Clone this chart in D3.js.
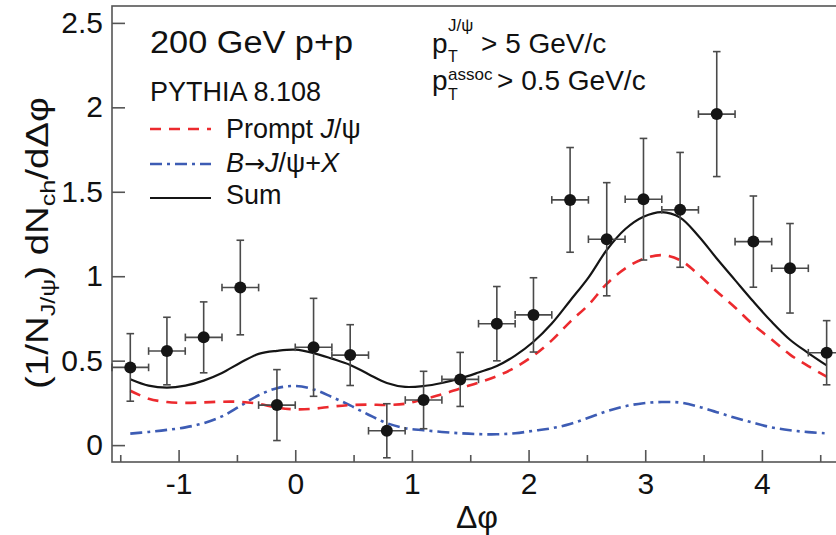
<!DOCTYPE html>
<html>
<head>
<meta charset="utf-8">
<script src="https://cdn.jsdelivr.net/npm/d3@7"></script>
<style>
  body { margin: 0; background: #fff; }
  text { font-family: "Liberation Sans", Arial, Helvetica, sans-serif; fill: #111; }
</style>
</head>
<body>
<script>
// chart size (same as the window)
var width = 836;
var height = 535;

// measured points: bin centres in dphi, per-trigger yield and its error
var dphi = [-1.414, -1.100, -0.785, -0.471, -0.157, 0.157, 0.471, 0.785, 1.100, 1.414,
            1.728, 2.042, 2.356, 2.670, 2.985, 3.299, 3.613, 3.927, 4.241, 4.555];
var yieldVals = [0.46, 0.557, 0.638, 0.933, 0.237, 0.579, 0.533, 0.085, 0.267, 0.389,
                 0.719, 0.771, 1.452, 1.219, 1.456, 1.393, 1.960, 1.205, 1.047, 0.547];
var yieldErr = [0.20, 0.20, 0.21, 0.28, 0.21, 0.29, 0.18, 0.16, 0.17, 0.16,
                0.22, 0.22, 0.31, 0.335, 0.36, 0.34, 0.37, 0.27, 0.265, 0.19];
var binHalf = 0.157;

// PYTHIA curves
var modelPhi = [-1.414, -1.257, -1.100, -0.942, -0.785, -0.628, -0.471, -0.314, -0.157, 0.000,
                0.157, 0.314, 0.471, 0.628, 0.785, 0.942, 1.100, 1.257, 1.414, 1.571,
                1.728, 1.885, 2.042, 2.199, 2.356, 2.513, 2.670, 2.827, 2.985, 3.142,
                3.299, 3.456, 3.613, 3.770, 3.927, 4.084, 4.241, 4.398, 4.555];
var prompt = [0.322, 0.275, 0.255, 0.250, 0.253, 0.257, 0.256, 0.245, 0.222, 0.212,
              0.215, 0.228, 0.237, 0.240, 0.238, 0.245, 0.272, 0.300, 0.336, 0.370,
              0.408, 0.460, 0.530, 0.620, 0.730, 0.830, 0.955, 1.045, 1.103, 1.125,
              1.095, 1.010, 0.910, 0.815, 0.712, 0.625, 0.536, 0.468, 0.405];
var bDecay = [0.068, 0.078, 0.090, 0.105, 0.130, 0.170, 0.232, 0.295, 0.337, 0.350,
              0.330, 0.285, 0.235, 0.180, 0.130, 0.100, 0.088, 0.078, 0.070, 0.065,
              0.064, 0.070, 0.085, 0.100, 0.125, 0.162, 0.200, 0.230, 0.248, 0.255,
              0.252, 0.228, 0.195, 0.162, 0.132, 0.105, 0.088, 0.077, 0.070];
var sum = [0.390, 0.352, 0.340, 0.352, 0.382, 0.427, 0.488, 0.540, 0.558, 0.565,
           0.545, 0.512, 0.475, 0.420, 0.368, 0.345, 0.350, 0.368, 0.395, 0.430,
           0.468, 0.530, 0.612, 0.720, 0.855, 0.992, 1.155, 1.278, 1.352, 1.380,
           1.347, 1.238, 1.105, 0.977, 0.850, 0.730, 0.624, 0.545, 0.472];

var xMajor = [-1, 0, 1, 2, 3, 4];
var xMinor = [-1.5, -0.5, 0.5, 1.5, 2.5, 3.5, 4.5];
var yMajor = [0, 0.5, 1, 1.5, 2, 2.5];

var svg = d3.select('body').append('svg').attr('width', width).attr('height', height);

var x = d3.scaleLinear().domain([-Math.PI / 2, 3 * Math.PI / 2]).range([112, 845]);
var y = d3.scaleLinear().domain([-0.1, 2.6]).range([462, 6]);

// frame (right side falls outside the picture)
svg.append('rect')
    .attr('x', x.range()[0]).attr('y', y.range()[1])
    .attr('width', x.range()[1] - x.range()[0])
    .attr('height', y.range()[0] - y.range()[1])
    .attr('fill', 'none').attr('stroke', '#555').attr('stroke-width', 1.6);

// axes
var xAxis = svg.append('g').attr('transform', 'translate(0,' + y.range()[0] + ')')
    .call(d3.axisBottom(x).tickValues(xMajor).tickSize(-12).tickPadding(11)
          .tickFormat(function(d){ return String(d); }));
var xAxisMinor = svg.append('g').attr('transform', 'translate(0,' + y.range()[0] + ')')
    .call(d3.axisBottom(x).tickValues(xMinor).tickSize(-7).tickFormat(''));
var yAxis = svg.append('g').attr('transform', 'translate(' + x.range()[0] + ',0)')
    .call(d3.axisLeft(y).tickValues(yMajor).tickSize(-13).tickPadding(9)
          .tickFormat(function(d){ return String(d); }));

[xAxis, xAxisMinor, yAxis].forEach(function(g){
  g.select('.domain').remove();
  g.selectAll('.tick line').attr('stroke', '#555').attr('stroke-width', 1.6);
  g.selectAll('.tick text').attr('font-size', 30).attr('fill', '#111')
    .attr('font-family', '"Liberation Sans", Arial, sans-serif');
});

// model curves
var line = d3.line().curve(d3.curveCatmullRom.alpha(0.5))
    .x(function(d){ return x(d[0]); })
    .y(function(d){ return y(d[1]); });

function curveData(vals){
  return modelPhi.map(function(p, i){ return [p, vals[i]]; });
}

svg.append('path').attr('d', line(curveData(bDecay)))
    .attr('fill', 'none').attr('stroke', '#3d5cb4').attr('stroke-width', 2.6)
    .attr('stroke-dasharray', '12,5,3,5');
svg.append('path').attr('d', line(curveData(prompt)))
    .attr('fill', 'none').attr('stroke', '#ec2a2e').attr('stroke-width', 2.6)
    .attr('stroke-dasharray', '11,8');
svg.append('path').attr('d', line(curveData(sum)))
    .attr('fill', 'none').attr('stroke', '#151515').attr('stroke-width', 2.2);

// data points with error bars
var pts = dphi.map(function(p, i){ return {x: p, y: yieldVals[i], e: yieldErr[i]}; });
var cap = 3.8;
var eb = svg.append('g').attr('stroke', '#4a4a4a').attr('stroke-width', 1.6);
pts.forEach(function(d){
  var cx = x(d.x), cy = y(d.y);
  var top = y(d.y + d.e), bot = y(d.y - d.e);
  var l = x(d.x - binHalf), r = x(d.x + binHalf);
  eb.append('line').attr('x1', cx).attr('x2', cx).attr('y1', top).attr('y2', bot);
  eb.append('line').attr('x1', cx - cap).attr('x2', cx + cap).attr('y1', top).attr('y2', top);
  eb.append('line').attr('x1', cx - cap).attr('x2', cx + cap).attr('y1', bot).attr('y2', bot);
  eb.append('line').attr('x1', l).attr('x2', r).attr('y1', cy).attr('y2', cy);
  eb.append('line').attr('x1', l).attr('x2', l).attr('y1', cy - cap).attr('y2', cy + cap);
  eb.append('line').attr('x1', r).attr('x2', r).attr('y1', cy - cap).attr('y2', cy + cap);
});
svg.append('g').selectAll('circle').data(pts).enter().append('circle')
    .attr('cx', function(d){ return x(d.x); })
    .attr('cy', function(d){ return y(d.y); })
    .attr('r', 6).attr('fill', '#151515');

// axis titles
svg.append('text').attr('x', 477).attr('y', 528).attr('text-anchor', 'middle')
    .attr('font-size', 32).text('\u0394\u03c6');

var yt = svg.append('text')
    .attr('transform', 'translate(48,243) rotate(-90) scale(1.2,1)')
    .attr('text-anchor', 'middle').attr('font-size', 32);
yt.append('tspan').text('(1/N');
yt.append('tspan').attr('font-size', 21).attr('dy', 7).text('J/\u03c8');
yt.append('tspan').attr('dy', -7).text(') dN');
yt.append('tspan').attr('font-size', 21).attr('dy', 7).text('ch');
yt.append('tspan').attr('dy', -7).text('/d\u0394\u03c6');

// legend
svg.append('text').attr('x', 150).attr('y', 53).attr('font-size', 31)
    .attr('textLength', 203).attr('lengthAdjust', 'spacingAndGlyphs').text('200 GeV p+p');
svg.append('text').attr('x', 150).attr('y', 101).attr('font-size', 27).text('PYTHIA 8.108');

var legendItems = [
  {y: 129, color: '#ec2a2e', dash: '11,8', w: 2.6},
  {y: 164, color: '#3d5cb4', dash: '12,5,3,5', w: 2.6},
  {y: 198, color: '#151515', dash: null, w: 2.2}
];
legendItems.forEach(function(d){
  svg.append('line').attr('x1', 150).attr('x2', 211).attr('y1', d.y).attr('y2', d.y)
    .attr('stroke', d.color).attr('stroke-width', d.w)
    .attr('stroke-dasharray', d.dash);
});
var t1 = svg.append('text').attr('x', 226).attr('y', 138).attr('font-size', 27);
t1.append('tspan').text('Prompt ');
t1.append('tspan').attr('font-style', 'italic').text('J');
t1.append('tspan').text('/\u03c8');
var t2 = svg.append('text').attr('x', 226).attr('y', 172).attr('font-size', 27);
t2.append('tspan').attr('font-style', 'italic').text('B');
t2.append('tspan').attr('font-family', '"DejaVu Sans", sans-serif').attr('font-size', 25).text('\u2192');
t2.append('tspan').attr('font-style', 'italic').text('J');
t2.append('tspan').text('/\u03c8+');
t2.append('tspan').attr('font-style', 'italic').text('X');
svg.append('text').attr('x', 226).attr('y', 204).attr('font-size', 27).text('Sum');

// cut labels
svg.append('text').attr('x', 432).attr('y', 53).attr('font-size', 28).text('p');
svg.append('text').attr('x', 448).attr('y', 31).attr('font-size', 17).text('J/\u03c8');
svg.append('text').attr('x', 448).attr('y', 62).attr('font-size', 16).text('T');
svg.append('text').attr('x', 481).attr('y', 53).attr('font-size', 28).text('> 5 GeV/c');

svg.append('text').attr('x', 432).attr('y', 90).attr('font-size', 28).text('p');
svg.append('text').attr('x', 448).attr('y', 80).attr('font-size', 17).text('assoc');
svg.append('text').attr('x', 448).attr('y', 100).attr('font-size', 16).text('T');
svg.append('text').attr('x', 497).attr('y', 90).attr('font-size', 28).text('> 0.5 GeV/c');
</script>
</body>
</html>
